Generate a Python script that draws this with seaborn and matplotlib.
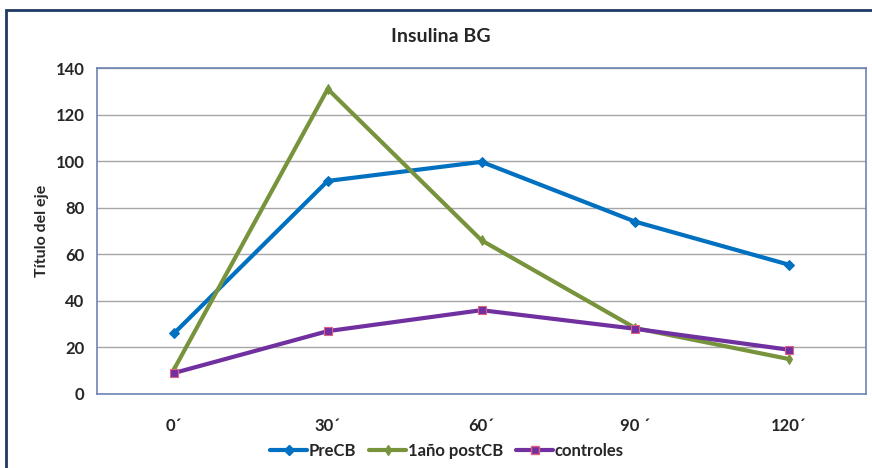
import matplotlib
matplotlib.use("Agg")
import matplotlib.pyplot as plt
import seaborn as sns
import pandas as pd
from matplotlib.patches import Rectangle

# Insulin curve values per time point
times = ["0´", "30´", "60´", "90 ´", "120´"]
pre_cb = [26, 91.5, 99.7, 74, 55.5]
post_cb = [10.5, 131, 66, 28.3, 15]
controles = [9, 27, 36, 28, 19]

series = ["PreCB", "1año postCB", "controles"]
colors = ["#0070C0", "#77933C", "#7030A0"]
markers = ["D", "d", "s"]

df = pd.DataFrame({
    "t": list(range(len(times))) * 3,
    "valor": pre_cb + post_cb + controles,
    "serie": [s for s in series for _ in times],
})

sns.set_theme(style="white")
plt.rcParams["font.family"] = ["Lato", "DejaVu Sans"]

fig = plt.figure(figsize=(8.72, 4.68), dpi=100)
ax = fig.add_axes([97 / 872, 1 - 394 / 468, 769 / 872, 326 / 468])

sns.lineplot(data=df, x="t", y="valor", hue="serie", hue_order=series,
             palette=colors, style="serie", style_order=series,
             markers=markers, dashes=False, linewidth=3, markersize=5.5,
             ax=ax, legend=False)
for line, s in zip(ax.get_lines(), series):
    if s == "controles":
        line.set_markeredgecolor("#E06080")
        line.set_markeredgewidth(0.8)
    else:
        line.set_markeredgecolor(line.get_color())

ax.set_xlim(-0.5, len(times) - 0.5)
ax.set_ylim(0, 140)
ax.set_yticks(range(0, 141, 20))
ax.set_xticks(range(len(times)))
ax.set_xticklabels(times)
ax.yaxis.grid(True, color="#A6A6A6", linewidth=1)
ax.set_axisbelow(True)
for sp in ax.spines.values():
    sp.set_color("#6C84B6")
    sp.set_linewidth(1.2)
ax.tick_params(axis="both", length=0, labelsize=12)
ax.tick_params(axis="x", pad=17)
ax.tick_params(axis="y", pad=9)
for lab in ax.get_xticklabels() + ax.get_yticklabels():
    lab.set_fontweight("bold")
ax.set_xlabel("")
ax.set_ylabel("Título del eje", fontsize=11.5, fontweight="bold", labelpad=5)

fig.text(441 / 872, 1 - 37 / 468, "Insulina BG", ha="center", va="center",
         fontsize=14, fontweight="bold")

handles = [plt.Line2D([], [], color=c, marker=m, linewidth=3, markersize=5.5,
                      markeredgecolor=("#E06080" if s == "controles" else c))
           for s, c, m in zip(series, colors, markers)]
fig.legend(handles, series, loc="center", bbox_to_anchor=(447 / 872, 1 - 451 / 468),
           ncol=3, frameon=False, handlelength=2.2, handletextpad=0.1,
           columnspacing=0.8, prop={"weight": "bold", "size": 12})

# Outer chart-area frame
fig.patches.append(Rectangle((6 / 872, -0.5), 2, 0.5 + (1 - 10 / 468),
                             transform=fig.transFigure, fill=False,
                             edgecolor="#1F3864", linewidth=2, figure=fig))

fig.savefig("out.png", dpi=100)
